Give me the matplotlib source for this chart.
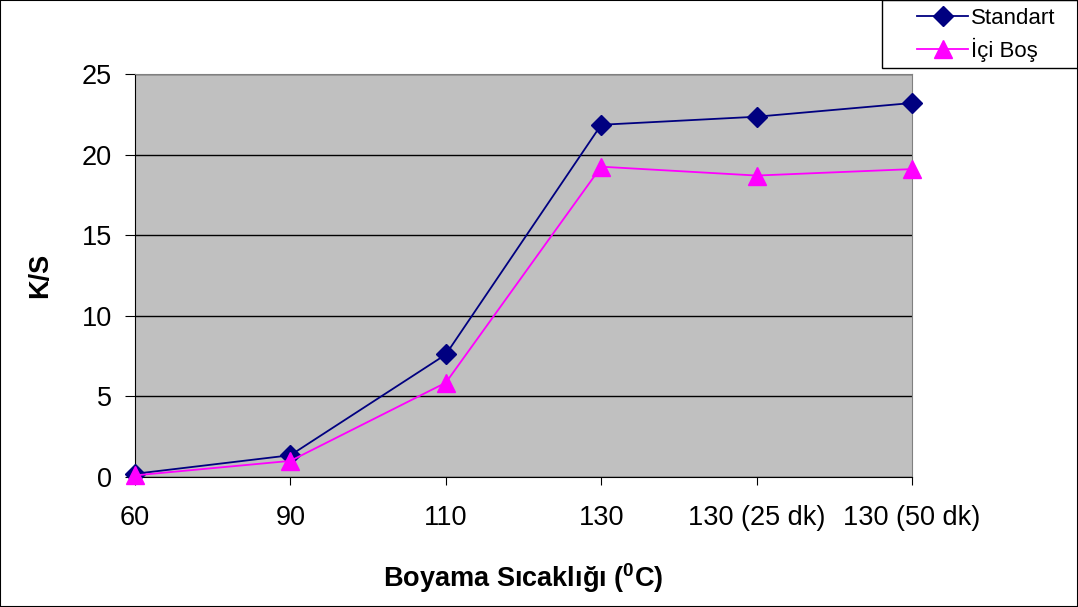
import matplotlib.pyplot as plt
from matplotlib.patches import Rectangle

plt.rcParams['font.family'] = ['Liberation Sans', 'DejaVu Sans']
plt.rcParams['mathtext.fontset'] = 'custom'
plt.rcParams['mathtext.rm'] = 'Liberation Sans'
plt.rcParams['mathtext.bf'] = 'Liberation Sans:bold'

categories = ['60', '90', '110', '130', '130 (25 dk)', '130 (50 dk)']
standart = [0.2, 1.35, 7.6, 21.85, 22.35, 23.2]
ici_bos = [0.1, 1.0, 5.85, 19.25, 18.7, 19.1]

W, H = 1078, 607
fig = plt.figure(figsize=[W/100, H/100], dpi=100)
ax = fig.add_axes([135/W, 1-477/H, 777/W, 403/H])
ax.set_facecolor('#C0C0C0')

x = list(range(len(categories)))
ax.plot(x, standart, color='#000080', marker='D', markersize=10, lw=1.3,
        label='Standart', zorder=3, clip_on=False)
ax.plot(x, ici_bos, color='#FF00FF', marker='^', markersize=13, lw=1.3,
        label='İçi Boş', zorder=3, clip_on=False)

ax.set_xlim(0, len(categories)-1)
ax.set_ylim(0, 25)
ax.set_yticks([0, 5, 10, 15, 20, 25])
ax.set_xticks(x)
ax.set_xticklabels(categories)
ax.yaxis.grid(True, color='black', lw=1)
ax.set_axisbelow(True)
ax.tick_params(labelsize=19.5, direction='out', color='black')
ax.tick_params(axis='x', length=6, pad=14)
ax.tick_params(axis='y', length=7, pad=9.5)

for s in ['left', 'bottom']:
    ax.spines[s].set_color('black')
for s in ['top', 'right']:
    ax.spines[s].set_color('#808080')

ax.set_xlabel(r'Boyama Sıcaklığı ($\mathbf{^{0}}$C)', fontsize=19.5, fontweight='bold', labelpad=22)
ax.set_ylabel('K/S', fontsize=19.5, fontweight='bold', labelpad=21)

# legend box in the top right corner, entries placed inside it
fig.patches.append(Rectangle((882/W, 1-68/H), 196/W, 68/H, transform=fig.transFigure,
                             fill=False, edgecolor='black', lw=1))
leg = fig.legend(loc='upper left', bbox_to_anchor=(917/W, 1-8/H), fontsize=16,
                 frameon=False, borderpad=0, handlelength=2.3,
                 labelspacing=0.4, handletextpad=0.15, borderaxespad=0)

# outer border of the figure
fig.patches.append(Rectangle((0, 0), 1, 1, transform=fig.transFigure,
                             fill=False, edgecolor='black', lw=1.5))

fig.savefig('out.png', dpi=100)
